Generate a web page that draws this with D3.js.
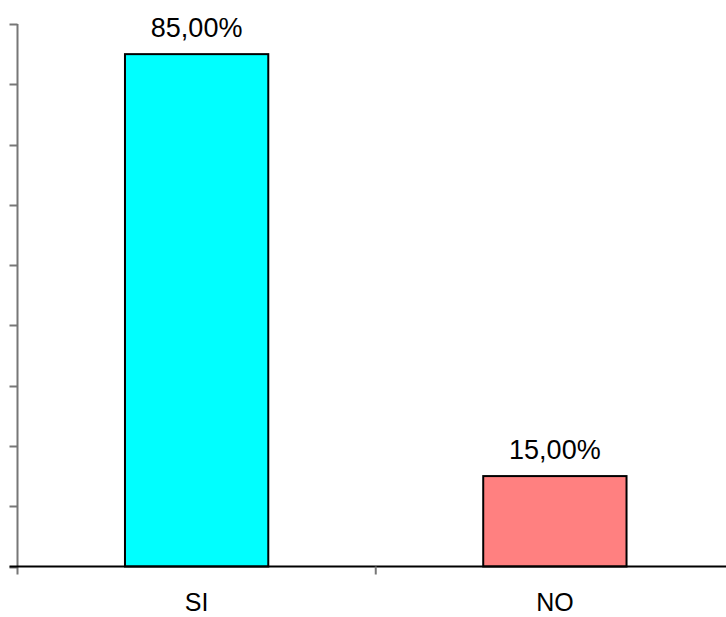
<!DOCTYPE html>
<html><head><meta charset="utf-8">
<script src="https://cdn.jsdelivr.net/npm/d3@7"></script>
<style>body{margin:0;background:#fff}</style>
</head><body>
<script>
const categories = ["SI", "NO"];
const values = [85, 15];
const colors = ["#00FFFF", "#FF8080"];
const yTicks = [0,10,20,30,40,50,60,70,80,90];

const W = 726, H = 617;
const svg = d3.select("body").append("svg").attr("width", W).attr("height", H);
const x0 = 17.5, x1 = 734, yTop = 24, yBot = 566.5;
const x = d3.scaleBand().domain(categories).range([x0, x1]).paddingInner(0).paddingOuter(0);
const y = d3.scaleLinear().domain([0, 90]).range([yBot, yTop]);
const bw = x.bandwidth() * 0.4;

// y axis
svg.append("line").attr("x1", x0).attr("x2", x0).attr("y1", yTop).attr("y2", yBot + 8)
  .attr("stroke", "#777").attr("stroke-width", 2);
svg.selectAll(".yt").data(yTicks).enter().append("line")
  .attr("x1", x0 - 8).attr("x2", x0).attr("y1", d => Math.round(y(d)) + 0.5).attr("y2", d => Math.round(y(d)) + 0.5)
  .attr("stroke", "#777").attr("stroke-width", 2);

// bars
svg.selectAll(".bar").data(values).enter().append("rect")
  .attr("x", (d, i) => x(categories[i]) + (x.bandwidth() - bw) / 2)
  .attr("y", d => y(d))
  .attr("width", bw)
  .attr("height", d => yBot - y(d))
  .attr("fill", (d, i) => colors[i])
  .attr("stroke", "#000").attr("stroke-width", 2);

// x axis
svg.append("line").attr("x1", x0 - 8).attr("x2", W).attr("y1", yBot).attr("y2", yBot)
  .attr("stroke", "#000").attr("stroke-width", 2);
svg.append("line").attr("x1", x(categories[1])).attr("x2", x(categories[1])).attr("y1", yBot).attr("y2", yBot + 8)
  .attr("stroke", "#777").attr("stroke-width", 2);

// value labels
svg.selectAll(".vl").data(values).enter().append("text")
  .attr("x", (d, i) => x(categories[i]) + x.bandwidth() / 2)
  .attr("y", d => y(d) - 17)
  .attr("text-anchor", "middle")
  .attr("font-family", "Liberation Sans, Arial, sans-serif").attr("font-size", 27)
  .text(d => d.toFixed(2).replace(".", ",") + "%");

// category labels
svg.selectAll(".cl").data(categories).enter().append("text")
  .attr("x", d => x(d) + x.bandwidth() / 2)
  .attr("y", 611)
  .attr("text-anchor", "middle")
  .attr("font-family", "Liberation Sans, Arial, sans-serif").attr("font-size", 25)
  .text(d => d);
</script>
</body></html>
